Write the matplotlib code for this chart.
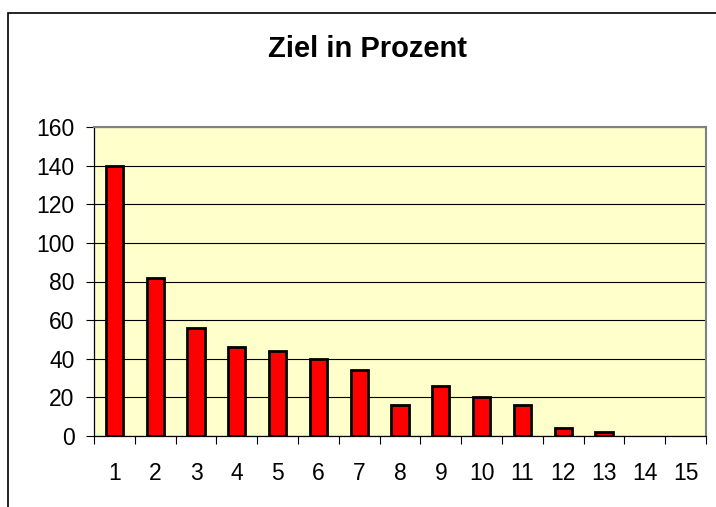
import matplotlib.pyplot as plt
import matplotlib.patches as patches

# data
categories = list(range(1, 16))
values = [140, 82, 56, 46, 44, 40, 34, 16, 26, 20, 16, 4, 2, 0, 0]
yticks = [0, 20, 40, 60, 80, 100, 120, 140, 160]

plt.rcParams['font.family'] = ['Liberation Sans', 'DejaVu Sans']

fig = plt.figure(figsize=(7.16, 5.07), dpi=100)
ax = fig.add_axes([94/716, 1 - 436/507, (706 - 94)/716, (436 - 127)/507])
ax.set_facecolor('#FFFFCC')

# outer chart frame (bottom/right run past the image)
frame = patches.Rectangle((8/716, -0.1), 1.2, 1 - 13/507 + 0.1, transform=fig.transFigure,
                          fill=False, edgecolor='black', lw=1.2, clip_on=False)
fig.patches.append(frame)

ax.yaxis.grid(True, color='black', lw=0.8)
ax.set_axisbelow(True)
bars = ax.bar(categories, values, width=0.42, color='#FF0000', edgecolor='black', lw=2, zorder=3)
for b, v in zip(bars, values):
    if v == 0:
        b.set_visible(False)

ax.set_xlim(0.5, 15.5)
ax.set_ylim(0, 160)
ax.set_yticks(yticks)
ax.set_xticks([c - 0.5 for c in categories] + [15.5])
ax.set_xticklabels([])
ax.set_xticks(categories, minor=True)
ax.set_xticklabels([str(c) for c in categories], minor=True)
ax.tick_params(axis='x', which='major', length=6, width=0.8, direction='out')
ax.tick_params(axis='x', which='minor', length=0, pad=19, labelsize=16.5)
ax.tick_params(axis='y', length=6, width=0.8, pad=8, labelsize=16.5)

for s in ['left', 'bottom']:
    ax.spines[s].set_color('black')
    ax.spines[s].set_linewidth(0.9)
for s in ['top', 'right']:
    ax.spines[s].set_color('#808080')
    ax.spines[s].set_linewidth(1.5)

fig.text(368/716, 1 - 49/507, 'Ziel in Prozent', ha='center', va='center',
         fontsize=21, fontweight='bold')

fig.savefig('out.png', dpi=100)
